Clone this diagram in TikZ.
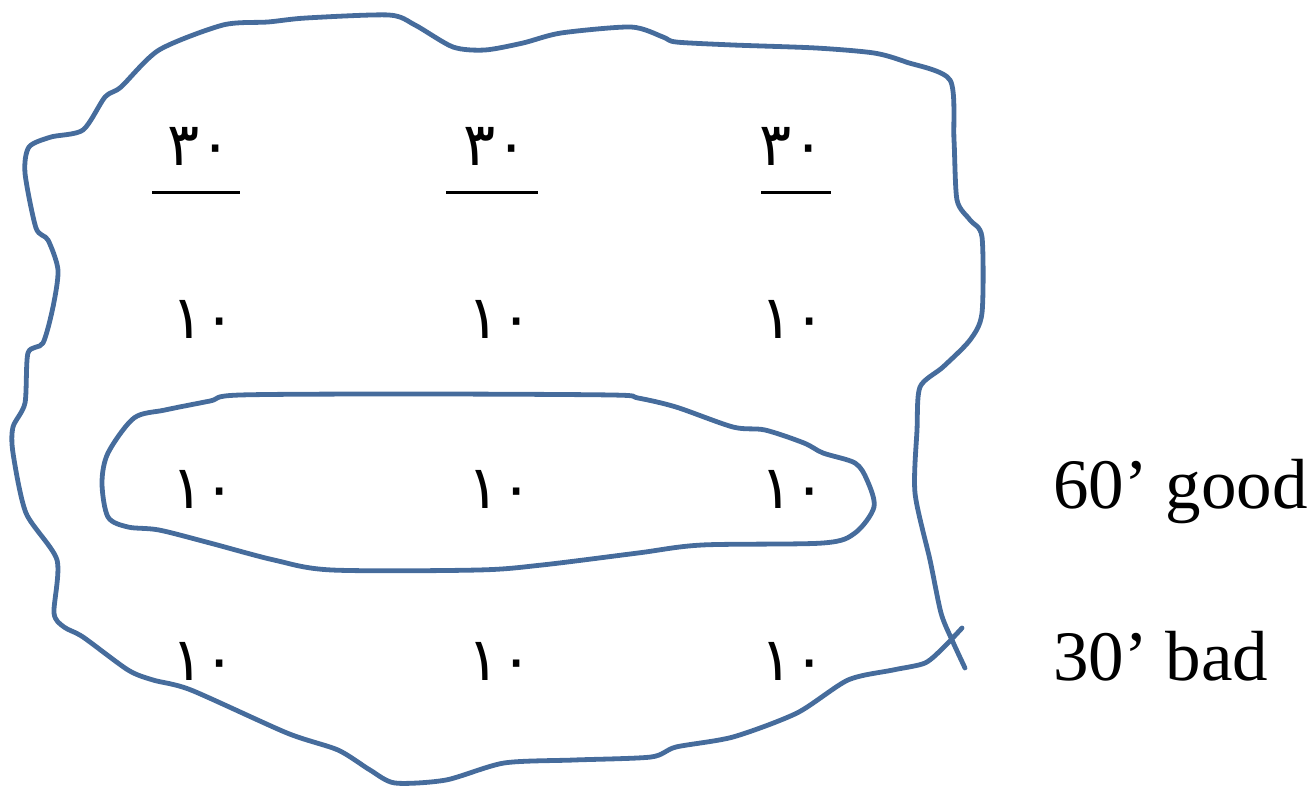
\documentclass[tikz,border=0pt]{standalone}
\usepackage{fontspec}
\setmainfont{Liberation Serif}
\newfontfamily\arabicfont[Script=Arabic]{DejaVu Sans}
\definecolor{penblue}{RGB}{70,108,156}
\tikzset{
  pen/.style={draw=penblue, line width=2.4pt, line cap=round, line join=round},
  num/.style={font=\arabicfont\fontsize{30}{34}\selectfont, anchor=base, inner sep=0pt},
  lbl/.style={font=\fontsize{35.5}{40}\selectfont, anchor=base west, inner sep=0pt},
  bar/.style={draw=black, line width=1.5pt}
}
\begin{document}
\begin{tikzpicture}[x=0.5pt,y=-0.5pt]
\useasboundingbox (0,0) rectangle (1311,787);
% outer hand-drawn boundary
\draw[pen] plot[smooth, tension=0.45] coordinates {
(965,668) (952,640) (941,613) (930,560) (915,493) (917,430) (920,387) (943,367)
(970,340) (982,313) (982,237) (970,220) (957,200) (954,140) (950,80) (906,62)
(874,53) (816,48) (733,45) (676,42) (663,37) (631,27) (561,33) (523,43)
(485,50) (453,47) (415,25) (389,15) (306,18) (268,22) (223,25) (159,50)
(121,87) (105,97) (83,130) (51,137) (29,147) (25,173) (36,228) (48,240)
(58,270) (53,307) (43,343) (28,353) (25,403) (13,427) (13,453) (26,513)
(57,560) (54,613) (64,627) (83,637) (128,670) (153,680) (191,690) (287,733)
(338,750) (370,770) (395,783) (446,780) (504,763) (574,760) (651,757) (676,747)
(733,737) (797,713) (848,680) (893,670) (925,663) (944,647) (962,628)};
% inner loop
\draw[pen] plot[smooth cycle, tension=0.5] coordinates {
(240,395) (420,394) (612,395) (638,398) (676,407) (733,427) (765,430) (804,443)
(823,453) (855,463) (867,480) (874,507) (855,533) (823,543) (702,545) (638,553)
(542,565) (478,570) (332,570) (274,560) (210,543) (159,530) (128,527) (108,517)
(102,483) (108,453) (134,418) (165,410) (210,401)};
% numbers
\node[num] (a1) at (200,165) {٣٠};
\node[num] (a2) at (496,165) {٣٠};
\node[num] (a3) at (792,165) {٣٠};
\draw[bar] (152,192) -- (240,192);
\draw[bar] (446,192) -- (538,192);
\draw[bar] (761,192) -- (831,192);
\node[num] (b1) at (204,338) {١٠};
\node[num] (b2) at (500,338) {١٠};
\node[num] (b3) at (793,338) {١٠};
\node[num] (c1) at (204,508) {١٠};
\node[num] (c2) at (500,508) {١٠};
\node[num] (c3) at (793,508) {١٠};
\node[num] (d1) at (204,680) {١٠};
\node[num] (d2) at (500,680) {١٠};
\node[num] (d3) at (793,680) {١٠};
\node[lbl] (good) at (1053,508) {60’ good};
\node[lbl] (bad) at (1053,680) {30’ bad};
\end{tikzpicture}
\end{document}
